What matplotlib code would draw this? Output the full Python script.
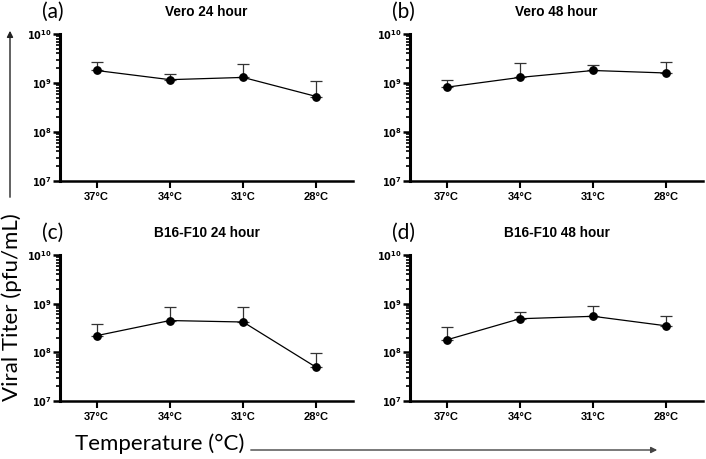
import numpy as np
import matplotlib
matplotlib.use("Agg")
import matplotlib.pyplot as plt
from matplotlib.ticker import LogLocator, FixedLocator, NullFormatter, FuncFormatter

temps = ["37°C", "34°C", "31°C", "28°C"]
titles = ["Vero 24 hour", "Vero 48 hour", "B16-F10 24 hour", "B16-F10 48 hour"]
letters = ["(a)", "(b)", "(c)", "(d)"]

vero24_mean = [1.8e9, 1.17e9, 1.3e9, 5.3e8]
vero24_top = [2.7e9, 1.5e9, 2.4e9, 1.1e9]
vero48_mean = [8.2e8, 1.3e9, 1.8e9, 1.6e9]
vero48_top = [1.15e9, 2.6e9, 2.3e9, 2.7e9]
b16_24_mean = [2.2e8, 4.5e8, 4.2e8, 4.9e7]
b16_24_top = [3.8e8, 8.5e8, 8.7e8, 9.8e7]
b16_48_mean = [1.8e8, 4.9e8, 5.5e8, 3.5e8]
b16_48_top = [3.3e8, 6.8e8, 8.9e8, 5.6e8]

means = [vero24_mean, vero48_mean, b16_24_mean, b16_48_mean]
tops = [vero24_top, vero48_top, b16_24_top, b16_48_top]

W, H = 706, 459
fig = plt.figure(figsize=(W / 100, H / 100), dpi=100)

# axes positions in pixels: (left, top, right, bottom)
boxes = [(60, 34, 353, 181), (410, 34, 703, 181), (60, 255, 353, 401), (410, 255, 703, 401)]

def sup_fmt(v, pos):
    e = int(round(np.log10(v)))
    return r"$\mathbf{10^{%d}}$" % e

for i in range(4):
    l, t, r, b = boxes[i]
    ax = fig.add_axes([l / W, 1 - b / H, (r - l) / W, (b - t) / H])
    x = np.arange(len(temps))
    m = np.array(means[i])
    up = np.array(tops[i]) - m
    ax.errorbar(x, m, yerr=[np.zeros_like(m), up], fmt='-o', color='black',
                ms=5.3, lw=0.9, elinewidth=0.9, capsize=4, capthick=0.9,
                ecolor='#333333', zorder=3)
    ax.set_yscale('log')
    ax.set_ylim(1e7, 1e10)
    ax.set_xlim(-0.5, 3.5)
    ax.set_xticks(x)
    ax.set_xticklabels(temps, fontsize=8, fontweight='bold', family='Liberation Sans')
    ax.yaxis.set_major_locator(FixedLocator([1e7, 1e8, 1e9, 1e10]))
    ax.yaxis.set_major_formatter(FuncFormatter(sup_fmt))
    ax.yaxis.set_minor_locator(LogLocator(base=10, subs=np.arange(2, 10)))
    ax.yaxis.set_minor_formatter(NullFormatter())
    for lab in ax.get_yticklabels():
        lab.set_fontsize(7)
    ax.spines['top'].set_visible(False)
    ax.spines['right'].set_visible(False)
    ax.spines['left'].set_linewidth(2.2)
    ax.spines['bottom'].set_linewidth(1.8)
    ax.tick_params(axis='y', which='major', length=5, width=1.8, pad=1)
    ax.tick_params(axis='y', which='minor', length=3, width=1.2)
    ax.tick_params(axis='x', which='major', length=5, width=1.5, pad=3)
    ax.patch.set_alpha(0)
    cx = (l + r) / 2
    fig.text(cx / W, 1 - (t - 22) / H, titles[i], ha='center', va='center',
             fontsize=9.8, fontweight='bold', family='Liberation Sans')
    fig.text((l - 18) / W, 1 - (t - 22) / H, letters[i], ha='left', va='center',
             fontsize=15, family='Lato')

# Y label + arrow
fig.text(12 / W, 1 - 307 / H, "Viral Titer (pfu/mL)", rotation=90, ha='center',
         va='center', fontsize=16, family='Lato')
fig.add_artist(matplotlib.patches.FancyArrowPatch(
    (10 / W, 1 - 200 / H), (10 / W, 1 - 28 / H), transform=fig.transFigure,
    arrowstyle='-|>', mutation_scale=9, lw=1, color='#222222'))

# X label + arrow
fig.text(160 / W, 1 - 444 / H, "Temperature (°C)", ha='center', va='center',
         fontsize=16, family='Lato')
fig.add_artist(matplotlib.patches.FancyArrowPatch(
    (248 / W, 1 - 450 / H), (660 / W, 1 - 450 / H), transform=fig.transFigure,
    arrowstyle='-|>', mutation_scale=9, lw=1, color='#444444'))

fig.savefig("out.png", dpi=100)
